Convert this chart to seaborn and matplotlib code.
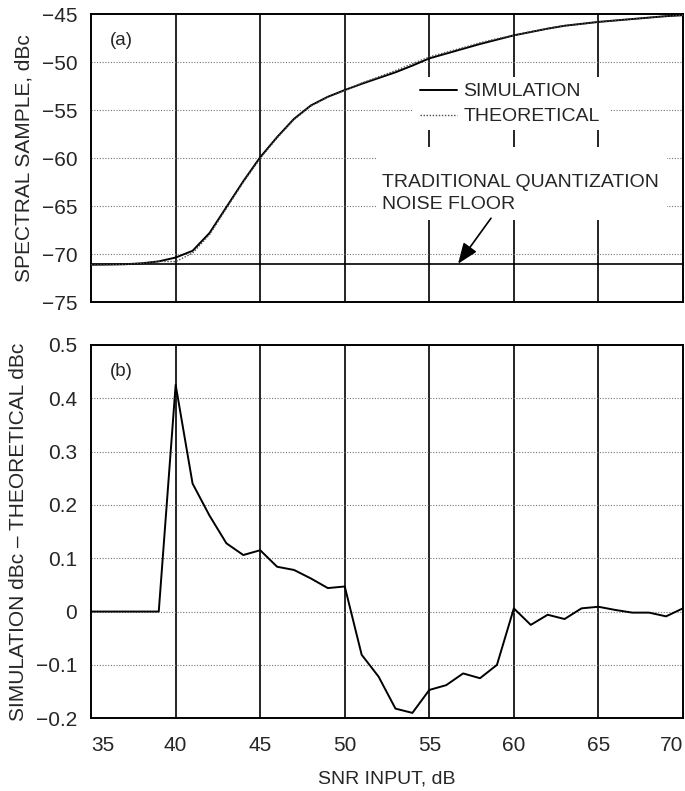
import numpy as np
import pandas as pd
import matplotlib
matplotlib.use("Agg")
import matplotlib.pyplot as plt
from matplotlib.patches import Rectangle
import seaborn as sns

# SNR input, dB
snr_db = list(range(35, 71))

# (a) spectral sample, dBc
sim_dbc = [-71.10, -71.08, -71.05, -70.95, -70.75, -70.35, -69.65, -67.80, -65.10, -62.40,
           -59.90, -57.80, -55.90, -54.50, -53.60, -52.90, -52.25, -51.65, -51.05, -50.35,
           -49.60, -49.10, -48.60, -48.10, -47.65, -47.20, -46.85, -46.50, -46.20, -46.00,
           -45.80, -45.65, -45.50, -45.35, -45.20, -45.10]
theo_dbc = [-71.10, -71.08, -71.05, -70.95, -70.75, -70.78, -69.89, -67.98, -65.23, -62.51,
            -60.02, -57.88, -55.98, -54.56, -53.64, -52.95, -52.17, -51.53, -50.87, -50.16,
            -49.45, -48.96, -48.48, -47.97, -47.55, -47.21, -46.83, -46.49, -46.19, -46.01,
            -45.81, -45.65, -45.50, -45.35, -45.19, -45.11]
noise_floor_dbc = -71.0

# (b) simulation - theoretical, dBc
diff_dbc = [0, 0, 0, 0, 0, 0.425, 0.24, 0.18, 0.128, 0.106,
            0.115, 0.084, 0.078, 0.062, 0.044, 0.047, -0.081, -0.122, -0.182, -0.19,
            -0.147, -0.138, -0.116, -0.125, -0.10, 0.006, -0.025, -0.006, -0.014, 0.006,
            0.009, 0.003, -0.002, -0.002, -0.009, 0.006]

x_ticks = [35, 40, 45, 50, 55, 60, 65, 70]
top_ticks = [-75, -70, -65, -60, -55, -50, -45]
bot_ticks = [-0.2, -0.1, 0, 0.1, 0.2, 0.3, 0.4, 0.5]
bot_tick_labels = ["\u22120.2", "\u22120.1", "0", "0.1", "0.2", "0.3", "0.4", "0.5"]

sns.set_style("white")
plt.rcParams['font.family'] = ['Liberation Sans', 'DejaVu Sans']
plt.rcParams['font.size'] = 14

df = pd.DataFrame({"snr": snr_db, "sim": sim_dbc, "theo": theo_dbc, "diff": diff_dbc})

fig = plt.figure(figsize=(6.85, 7.91), dpi=100)
ax1 = fig.add_axes([0.133, 0.618, 0.864, 0.364])
ax2 = fig.add_axes([0.133, 0.092, 0.864, 0.472])


def style_axes(ax, yticks):
    ax.set_xlim(35, 70)
    ax.set_xticks(x_ticks)
    ax.set_yticks(yticks)
    for x in x_ticks[1:-1]:
        ax.axvline(x, color="black", lw=1.2, zorder=1)
    for y in yticks[1:-1]:
        ax.axhline(y, color="0.45", lw=0.8, ls=(0, (1, 1.5)), zorder=1)
    for s in ax.spines.values():
        s.set_color("black")
        s.set_linewidth(1.4)
    ax.tick_params(axis="both", direction="out", length=5, width=1.2,
                   color="black", labelsize=15)
    ax.tick_params(axis="y", pad=5)
    ax.tick_params(axis="x", pad=8)


# panel (a)
sns.lineplot(data=df, x="snr", y="sim", ax=ax1, color="black", lw=1.4,
             label="SIMULATION", zorder=3)
sns.lineplot(data=df, x="snr", y="theo", ax=ax1, color="0.3", lw=1.0,
             ls=(0, (1, 1.2)), label="THEORETICAL", zorder=3)
ax1.axhline(noise_floor_dbc, color="black", lw=1.2, zorder=2)
ax1.set_ylim(-75, -45)
style_axes(ax1, top_ticks)
ax1.set_xticklabels([])
ax1.set_xlabel("")
ax1.set_ylabel("SPECTRAL SAMPLE, dBc", fontsize=15, labelpad=6)
ax1.text(36.1, -47.7, "(a)", fontsize=13.5, va="center")

# white blank-outs behind legend and note (gridlines are broken there)
ax1.add_patch(Rectangle((0.544, 0.597), 0.333, 0.184, transform=ax1.transAxes,
                        facecolor="white", edgecolor="none", zorder=2))
ax1.add_patch(Rectangle((0.483, 0.285), 0.490, 0.253, transform=ax1.transAxes,
                        facecolor="white", edgecolor="none", zorder=2))

leg = ax1.legend(loc="upper left", bbox_to_anchor=(0.555, 0.762), frameon=False,
                 fontsize=14, handlelength=1.9, handletextpad=0.35, labelspacing=0.38,
                 borderpad=0, borderaxespad=0)
leg.set_zorder(4)

ax1.text(52.2, -61.6, "TRADITIONAL QUANTIZATION\nNOISE FLOOR", fontsize=14,
         ha="left", va="top", linespacing=1.45, zorder=4)
ax1.annotate("", xy=(56.7, -71.0), xytext=(58.65, -66.25),
             arrowprops=dict(arrowstyle="-|>,head_length=0.9,head_width=0.35",
                             color="black", lw=1.2, shrinkA=0, shrinkB=0),
             zorder=4)

# panel (b)
sns.lineplot(data=df, x="snr", y="diff", ax=ax2, color="black", lw=1.4, zorder=3)
ax2.set_ylim(-0.2, 0.5)
style_axes(ax2, bot_ticks)
ax2.set_yticklabels(bot_tick_labels)
xt = ax2.get_xticklabels()
xt[0].set_ha("left")
xt[-1].set_ha("right")
ax2.set_xlabel("SNR INPUT, dB", fontsize=14, labelpad=11)
ax2.set_ylabel("SIMULATION dBc \u2013 THEORETICAL dBc", fontsize=15, labelpad=6)
ax2.text(36.1, 0.45, "(b)", fontsize=13.5, va="center")

fig.savefig("out.png", dpi=100)
